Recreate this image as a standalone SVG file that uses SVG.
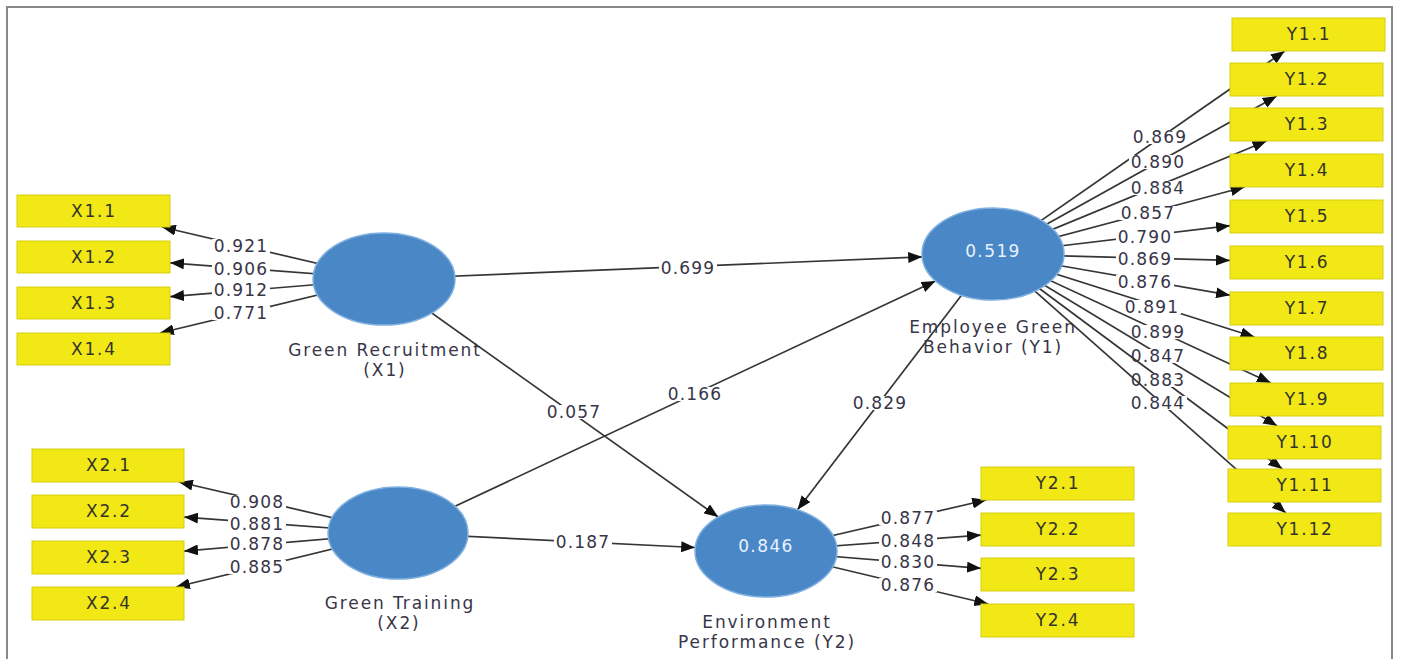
<svg xmlns="http://www.w3.org/2000/svg" width="1402" height="659" viewBox="0 0 1402 659">
<defs>
<marker id="arr" markerWidth="14" markerHeight="11" refX="14" refY="5.5" orient="auto" markerUnits="userSpaceOnUse"><path d="M0,0 L14,5.5 L0,11 Z" fill="#111"/></marker>
<style>
.ln{stroke:#363636;stroke-width:1.7;fill:none;marker-end:url(#arr)}
.bg{fill:#fff}
.lb{font-family:"DejaVu Sans",sans-serif;font-size:17px;letter-spacing:1.2px;fill:#383548;text-anchor:middle}
.box{fill:#f1e816;stroke:#d6cf10;stroke-width:1}
.bt{font-family:"DejaVu Sans",sans-serif;font-size:17px;letter-spacing:1.8px;fill:#34342a;text-anchor:middle}
.lv{fill:#4a87c6;stroke:#7fb0e0;stroke-width:1.5}
.nt{font-family:"DejaVu Sans",sans-serif;font-size:17px;letter-spacing:1.9px;fill:#383548;text-anchor:middle}
.r2{font-family:"DejaVu Sans",sans-serif;font-size:17px;letter-spacing:1.4px;fill:#e8f2ff;text-anchor:middle}
</style>
</defs>
<rect x="0" y="0" width="1402" height="659" fill="#fff"/>
<path d="M7,660 V7 H1392 V660" fill="none" stroke="#888" stroke-width="2"/>

<g id="connectors">
<path class="ln" d="M384,279 L161.9,227"/>
<path class="ln" d="M384,279 L170,262.8"/>
<path class="ln" d="M384,279 L170,296.7"/>
<path class="ln" d="M384,279 L159.9,333"/>
<rect class="bg" x="212" y="239" width="58" height="14"/><text class="lb" x="241" y="252">0.921</text>
<rect class="bg" x="212" y="262" width="58" height="14"/><text class="lb" x="241" y="275">0.906</text>
<rect class="bg" x="212" y="283" width="58" height="14"/><text class="lb" x="241" y="296">0.912</text>
<rect class="bg" x="212" y="306" width="58" height="14"/><text class="lb" x="241" y="319">0.771</text>
<path class="ln" d="M398,533 L178.9,482"/>
<path class="ln" d="M398,533 L184,517.1"/>
<path class="ln" d="M398,533 L184,551.1"/>
<path class="ln" d="M398,533 L175.9,587"/>
<rect class="bg" x="228" y="495" width="58" height="14"/><text class="lb" x="257" y="508">0.908</text>
<rect class="bg" x="228" y="517" width="58" height="14"/><text class="lb" x="257" y="530">0.881</text>
<rect class="bg" x="228" y="537" width="58" height="14"/><text class="lb" x="257" y="550">0.878</text>
<rect class="bg" x="228" y="560" width="58" height="14"/><text class="lb" x="257" y="573">0.885</text>
<path class="ln" d="M384,279 L922.2,256.9"/>
<rect class="bg" x="659" y="261" width="58" height="14"/><text class="lb" x="688" y="274">0.699</text>
<path class="ln" d="M384,279 L718.2,517"/>
<rect class="bg" x="545" y="405" width="58" height="14"/><text class="lb" x="574" y="418">0.057</text>
<path class="ln" d="M398,533 L935.5,281"/>
<rect class="bg" x="666" y="387" width="58" height="14"/><text class="lb" x="695" y="400">0.166</text>
<path class="ln" d="M398,533 L695.2,547.5"/>
<rect class="bg" x="554" y="535" width="58" height="14"/><text class="lb" x="583" y="548">0.187</text>
<path class="ln" d="M993,254 L797.5,509.8"/>
<rect class="bg" x="851" y="396" width="58" height="14"/><text class="lb" x="880" y="409">0.829</text>
<path class="ln" d="M766,551 L986.2,500"/>
<path class="ln" d="M766,551 L981,535.1"/>
<path class="ln" d="M766,551 L981,568.3"/>
<path class="ln" d="M766,551 L988.3,604"/>
<rect class="bg" x="879" y="511" width="58" height="14"/><text class="lb" x="908" y="524">0.877</text>
<rect class="bg" x="879" y="534" width="58" height="14"/><text class="lb" x="908" y="547">0.848</text>
<rect class="bg" x="879" y="555" width="58" height="14"/><text class="lb" x="908" y="568">0.830</text>
<rect class="bg" x="879" y="578" width="58" height="14"/><text class="lb" x="908" y="591">0.876</text>
<path class="ln" d="M993,254 L1284.8,51"/>
<rect class="bg" x="1131" y="130" width="58" height="14"/><text class="lb" x="1160" y="143">0.869</text>
<path class="ln" d="M993,254 L1276.8,96"/>
<rect class="bg" x="1129" y="155" width="58" height="14"/><text class="lb" x="1158" y="168">0.890</text>
<path class="ln" d="M993,254 L1266.6,141"/>
<rect class="bg" x="1129" y="181" width="58" height="14"/><text class="lb" x="1158" y="194">0.884</text>
<path class="ln" d="M993,254 L1244.6,187"/>
<rect class="bg" x="1119" y="206" width="58" height="14"/><text class="lb" x="1148" y="219">0.857</text>
<path class="ln" d="M993,254 L1230,225.7"/>
<rect class="bg" x="1116" y="230" width="58" height="14"/><text class="lb" x="1145" y="243">0.790</text>
<path class="ln" d="M993,254 L1230,260.4"/>
<rect class="bg" x="1116" y="252" width="58" height="14"/><text class="lb" x="1145" y="265">0.869</text>
<path class="ln" d="M993,254 L1230,295.2"/>
<rect class="bg" x="1116" y="275" width="58" height="14"/><text class="lb" x="1145" y="288">0.876</text>
<path class="ln" d="M993,254 L1254.5,337"/>
<rect class="bg" x="1123" y="300" width="58" height="14"/><text class="lb" x="1152" y="313">0.891</text>
<path class="ln" d="M993,254 L1270.9,383"/>
<rect class="bg" x="1129" y="325" width="58" height="14"/><text class="lb" x="1158" y="338">0.899</text>
<path class="ln" d="M993,254 L1277.2,426"/>
<rect class="bg" x="1129" y="349" width="58" height="14"/><text class="lb" x="1158" y="362">0.847</text>
<path class="ln" d="M993,254 L1282.3,469"/>
<rect class="bg" x="1129" y="373" width="58" height="14"/><text class="lb" x="1158" y="386">0.883</text>
<path class="ln" d="M993,254 L1285.8,513"/>
<rect class="bg" x="1129" y="396" width="58" height="14"/><text class="lb" x="1158" y="409">0.844</text>
</g>

<g id="node-X1">
<ellipse class="lv" cx="384" cy="279" rx="71" ry="46"/>
<text class="nt" x="385" y="356">Green Recruitment</text>
<text class="nt" x="385" y="376">(X1)</text>
</g>
<g id="node-X2">
<ellipse class="lv" cx="398" cy="533" rx="70" ry="46"/>
<text class="nt" x="400" y="609">Green Training</text>
<text class="nt" x="399" y="629">(X2)</text>
</g>
<g id="node-Y1">
<ellipse class="lv" cx="993" cy="254" rx="71" ry="46"/>
<text class="r2" x="993" y="257">0.519</text>
<text class="nt" x="993" y="333">Employee Green</text>
<text class="nt" x="993" y="353">Behavior (Y1)</text>
</g>
<g id="node-Y2">
<ellipse class="lv" cx="766" cy="551" rx="71" ry="46"/>
<text class="r2" x="766" y="552">0.846</text>
<text class="nt" x="767" y="628">Environment</text>
<text class="nt" x="767" y="648">Performance (Y2)</text>
</g>

<g id="node-X1.1"><rect class="box" x="17" y="195" width="153" height="32"/><text class="bt" x="94" y="217">X1.1</text></g>
<g id="node-X1.2"><rect class="box" x="17" y="241" width="153" height="32"/><text class="bt" x="94" y="263">X1.2</text></g>
<g id="node-X1.3"><rect class="box" x="17" y="287" width="153" height="32"/><text class="bt" x="94" y="309">X1.3</text></g>
<g id="node-X1.4"><rect class="box" x="17" y="333" width="153" height="32"/><text class="bt" x="94" y="355">X1.4</text></g>

<g id="node-X2.1"><rect class="box" x="32" y="449" width="152" height="33"/><text class="bt" x="109" y="471">X2.1</text></g>
<g id="node-X2.2"><rect class="box" x="32" y="495" width="152" height="33"/><text class="bt" x="109" y="517">X2.2</text></g>
<g id="node-X2.3"><rect class="box" x="32" y="541" width="152" height="33"/><text class="bt" x="109" y="563">X2.3</text></g>
<g id="node-X2.4"><rect class="box" x="32" y="587" width="152" height="33"/><text class="bt" x="109" y="609">X2.4</text></g>

<g id="node-Y2.1"><rect class="box" x="981" y="467" width="153" height="33"/><text class="bt" x="1058" y="489">Y2.1</text></g>
<g id="node-Y2.2"><rect class="box" x="981" y="513" width="153" height="33"/><text class="bt" x="1058" y="535">Y2.2</text></g>
<g id="node-Y2.3"><rect class="box" x="981" y="558" width="153" height="33"/><text class="bt" x="1058" y="580">Y2.3</text></g>
<g id="node-Y2.4"><rect class="box" x="981" y="604" width="153" height="33"/><text class="bt" x="1058" y="626">Y2.4</text></g>

<g id="node-Y1.1"><rect class="box" x="1232" y="18" width="153" height="33"/><text class="bt" x="1309" y="40">Y1.1</text></g>
<g id="node-Y1.2"><rect class="box" x="1230" y="63" width="153" height="33"/><text class="bt" x="1307" y="85">Y1.2</text></g>
<g id="node-Y1.3"><rect class="box" x="1230" y="108" width="153" height="33"/><text class="bt" x="1307" y="130">Y1.3</text></g>
<g id="node-Y1.4"><rect class="box" x="1230" y="154" width="153" height="33"/><text class="bt" x="1307" y="176">Y1.4</text></g>
<g id="node-Y1.5"><rect class="box" x="1230" y="200" width="153" height="33"/><text class="bt" x="1307" y="222">Y1.5</text></g>
<g id="node-Y1.6"><rect class="box" x="1230" y="246" width="153" height="33"/><text class="bt" x="1307" y="268">Y1.6</text></g>
<g id="node-Y1.7"><rect class="box" x="1230" y="292" width="153" height="33"/><text class="bt" x="1307" y="314">Y1.7</text></g>
<g id="node-Y1.8"><rect class="box" x="1230" y="337" width="153" height="33"/><text class="bt" x="1307" y="359">Y1.8</text></g>
<g id="node-Y1.9"><rect class="box" x="1230" y="383" width="153" height="33"/><text class="bt" x="1307" y="405">Y1.9</text></g>
<g id="node-Y1.10"><rect class="box" x="1228" y="426" width="153" height="33"/><text class="bt" x="1305" y="448">Y1.10</text></g>
<g id="node-Y1.11"><rect class="box" x="1228" y="469" width="153" height="33"/><text class="bt" x="1305" y="491">Y1.11</text></g>
<g id="node-Y1.12"><rect class="box" x="1228" y="513" width="153" height="33"/><text class="bt" x="1305" y="535">Y1.12</text></g>
</svg>
